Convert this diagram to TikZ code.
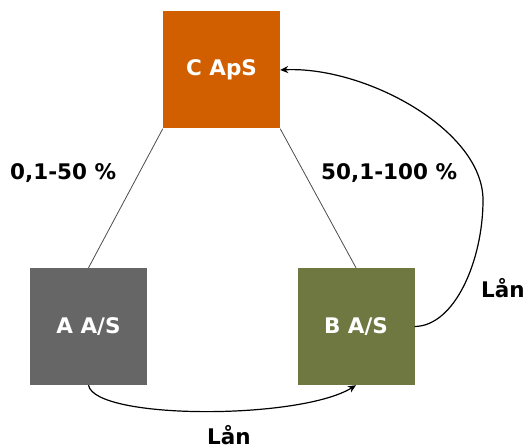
\documentclass[tikz,border=0pt]{standalone}
\usepackage{fontspec}
\setmainfont{DejaVu Sans}
\usetikzlibrary{arrows.meta}
\definecolor{cOrange}{RGB}{209,95,0}
\definecolor{cGray}{RGB}{102,102,102}
\definecolor{cOlive}{RGB}{112,120,66}
\begin{document}
\begin{tikzpicture}[x=1bp,y=-1bp,
  company/.style={minimum width=117bp,minimum height=117bp,inner sep=0pt,
    text=white,font=\fontsize{21.5bp}{25bp}\selectfont\bfseries},
  share/.style={draw=black!70,line width=0.8bp},
  loan/.style={draw=black,line width=1.2bp,-{Stealth[length=8bp,width=7bp]}},
  lbl/.style={inner sep=0pt,anchor=base west,font=\fontsize{21.5bp}{25bp}\selectfont\bfseries}]
  \useasboundingbox (0,0) rectangle (526,448);
  % companies
  \node[company,fill=cOrange] (C) at (221.5,70) {C ApS};
  \node[company,fill=cGray]   (A) at (88.5,326.5) {A A/S};
  \node[company,fill=cOlive]  (B) at (356,326.5) {B A/S};
  % ownership lines
  \draw[share] (C.south west) -- (A.north);
  \draw[share] (C.south east) -- (B.north);
  % loans
  \draw[loan] (A.south) .. controls (95,420) and (300,420) .. (B.south);
  \coordinate (R) at (483,200);
  \draw[loan] (B.east) .. controls (455,326) and (483,260) .. (R)
              .. controls (483,130) and (365,66) .. (C.east);
  % labels
  \node[lbl] (pA) at (10,180) {0,1-50 \%};
  \node[lbl] (pB) at (321,180) {50,1-100 \%};
  \node[lbl] (l1) at (481,297) {Lån};
  \node[lbl] (l2) at (207,444) {Lån};
\end{tikzpicture}
\end{document}
